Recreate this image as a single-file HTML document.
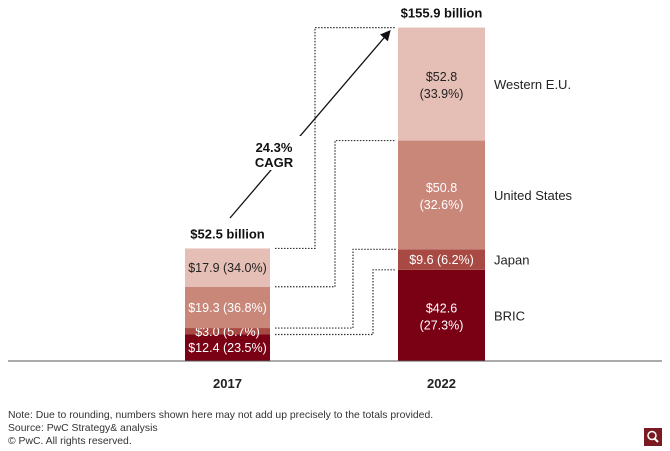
<!DOCTYPE html>
<html><head><meta charset="utf-8"><style>
body{margin:0;background:#fff;width:670px;height:450px;overflow:hidden;font-family:"Liberation Sans",Arial,sans-serif}
svg text{font-family:"Liberation Sans",Arial,sans-serif}
.note{position:absolute;left:8px;font-size:10.4px;color:#333}
</style></head><body>
<svg id="chart" width="670" height="450" style="position:absolute;left:0;top:0"></svg>
<div class="note" style="top:410px">Note: Due to rounding, numbers shown here may not add up precisely to the totals provided.</div>
<div class="note" style="top:423px">Source: PwC Strategy&amp; analysis</div>
<div class="note" style="top:436px">© PwC. All rights reserved.</div>
<div style="position:absolute;left:644px;top:428px;width:18px;height:18px;background:#7a1a22">
<svg width="18" height="18"><circle cx="8" cy="7.5" r="4" fill="none" stroke="#fff" stroke-width="1.5"/><line x1="10.5" y1="10.5" x2="14" y2="14" stroke="#fff" stroke-width="2"/></svg></div>
<script>
const years=["2017","2022"];
const regions=["BRIC","Japan","United States","Western E.U."];
const v2017=[12.4,3.0,19.3,17.9];
const v2022=[42.6,9.6,50.8,52.8];
const pct2017=["23.5%","5.7%","36.8%","34.0%"];
const pct2022=["27.3%","6.2%","32.6%","33.9%"];
const totals=["$52.5 billion","$155.9 billion"];
const cagr="24.3%";
const colors=["#7a0014","#a84a43","#c9877a","#e5bfb5"];
const NS="http://www.w3.org/2000/svg";
const svg=document.getElementById('chart');
const base=361, scale=2.14;
const y=v=>base-v*scale;
const barX=[185,398], barW=[85,87];
function mk(t,a,p){const e=document.createElementNS(NS,t);for(const k in a)e.setAttribute(k,a[k]);(p||svg).appendChild(e);return e;}
function txt(x,yy,s,a){const e=mk('text',Object.assign({x:x,y:yy},a));e.textContent=s;return e;}
const series=[v2017,v2022], pcts=[pct2017,pct2022];
const tops=[[],[]];
series.forEach((vals,i)=>{
  let cum=0;
  vals.forEach((v,j)=>{
    const y0=y(cum), y1=y(cum+v); cum+=v; tops[i].push(y1);
    const r=mk('rect',{x:barX[i],y:y1,width:barW[i],height:y0-y1,fill:colors[j]});
    
    
    const cx=barX[i]+barW[i]/2, cy=(y0+y1)/2, fill=j===3?'#222':'#fff';
    let t;
    if(i===0||j===1){t=txt(cx,cy+4.5,'$'+v.toFixed(1)+' ('+pcts[i][j]+')',{'text-anchor':'middle','font-size':12.5,fill:fill});}
    else{t=txt(cx,cy-3,'$'+v.toFixed(1),{'text-anchor':'middle','font-size':12.5,fill:fill});
      txt(cx,cy+14,'('+pcts[i][j]+')',{'text-anchor':'middle','font-size':12.5,fill:fill});}
    
    
    if(i===1){const l=txt(494,cy+5,regions[j],{'font-size':13,fill:'#222'});
      
      }
  });
  const tl=txt(barX[i]+barW[i]/2,y(cum)-10,totals[i],{'text-anchor':'middle','font-size':13,'font-weight':'bold',fill:'#111'});
  
  
  const cl=txt(barX[i]+barW[i]/2,388,years[i],{'text-anchor':'middle','font-size':13,'font-weight':'bold',fill:'#222'});
  
  
});
const ax=mk('line',{x1:8,y1:base,x2:662,y2:base,stroke:'#555','stroke-width':1});


const elbowX=[373,353,335,315];
[0,1,2,3].forEach(j=>{
  const a=tops[0][j], b=tops[1][j];
  const p=mk('polyline',{points:`275,${a} ${elbowX[j]},${a} ${elbowX[j]},${b} 396,${b}`,fill:'none',stroke:'#333','stroke-width':1.2,'stroke-dasharray':'1.5,1.5'});
  
  
});
mk('defs',{}).innerHTML='<marker id="ah" markerWidth="8" markerHeight="8" refX="6" refY="4" orient="auto"><path d="M0,0 L8,4 L0,8 z" fill="#111"/></marker>';
const ar=mk('line',{x1:230,y1:218,x2:389,y2:32,stroke:'#111','stroke-width':1.3,'marker-end':'url(#ah)'});


mk('rect',{x:245,y:136,width:58,height:34,fill:'#fff'});
const c1=txt(274,152,cagr,{'text-anchor':'middle','font-size':13,'font-weight':'bold',fill:'#111'});


txt(274,167,'CAGR',{'text-anchor':'middle','font-size':13,'font-weight':'bold',fill:'#111'});
</script>
</body></html>
